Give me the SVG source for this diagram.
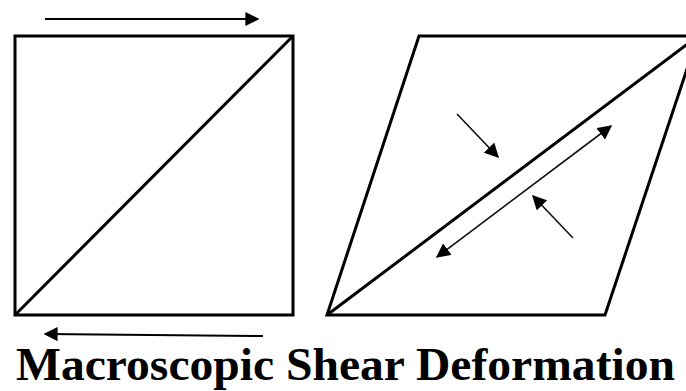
<svg xmlns="http://www.w3.org/2000/svg" width="686" height="391" viewBox="0 0 686 391">
<style>
.edge{fill:none;stroke:#000;stroke-width:3;stroke-linejoin:miter}
.arr{fill:none;stroke:#000;stroke-width:2}
.thin{fill:none;stroke:#111;stroke-width:1.6}
.title{font-family:"Liberation Serif","Times New Roman",serif;font-weight:bold;font-size:47px;fill:#000}
</style>
<defs>
<marker id="ah2" viewBox="0 0 10 10" refX="9" refY="5" markerWidth="7" markerHeight="7" orient="auto-start-reverse" markerUnits="strokeWidth">
<path d="M0,0 L10,5 L0,10 z" fill="#000"/>
</marker>
<marker id="ah3" viewBox="0 0 10 10" refX="9" refY="5" markerWidth="9" markerHeight="9" orient="auto-start-reverse" markerUnits="strokeWidth">
<path d="M0,0 L10,5 L0,10 z" fill="#000"/>
</marker>
</defs>
<rect width="686" height="391" fill="#fff"/>
<g id="square">
<rect class="edge" x="15" y="36" width="278" height="279"/>
<line class="edge" x1="15" y1="315" x2="293" y2="36"/>
</g>
<g id="parallelogram">
<polygon class="edge" points="327,315 419,36 698,36 605,315"/>
<line class="edge" x1="327" y1="315" x2="698" y2="36"/>
</g>
<g id="connectors">
<line class="arr" x1="45" y1="19" x2="258" y2="19" marker-end="url(#ah2)"/>
<line class="arr" x1="263" y1="336" x2="45" y2="334" marker-end="url(#ah2)"/>
<line class="thin" x1="437" y1="257" x2="611" y2="126" marker-start="url(#ah3)" marker-end="url(#ah3)"/>
<line class="thin" x1="457" y1="114" x2="498" y2="157" marker-end="url(#ah3)"/>
<line class="thin" x1="573" y1="238" x2="533" y2="196" marker-end="url(#ah3)"/>
</g>
<text class="title" x="16" y="380" textLength="659" lengthAdjust="spacingAndGlyphs">Macroscopic Shear Deformation</text>
</svg>
